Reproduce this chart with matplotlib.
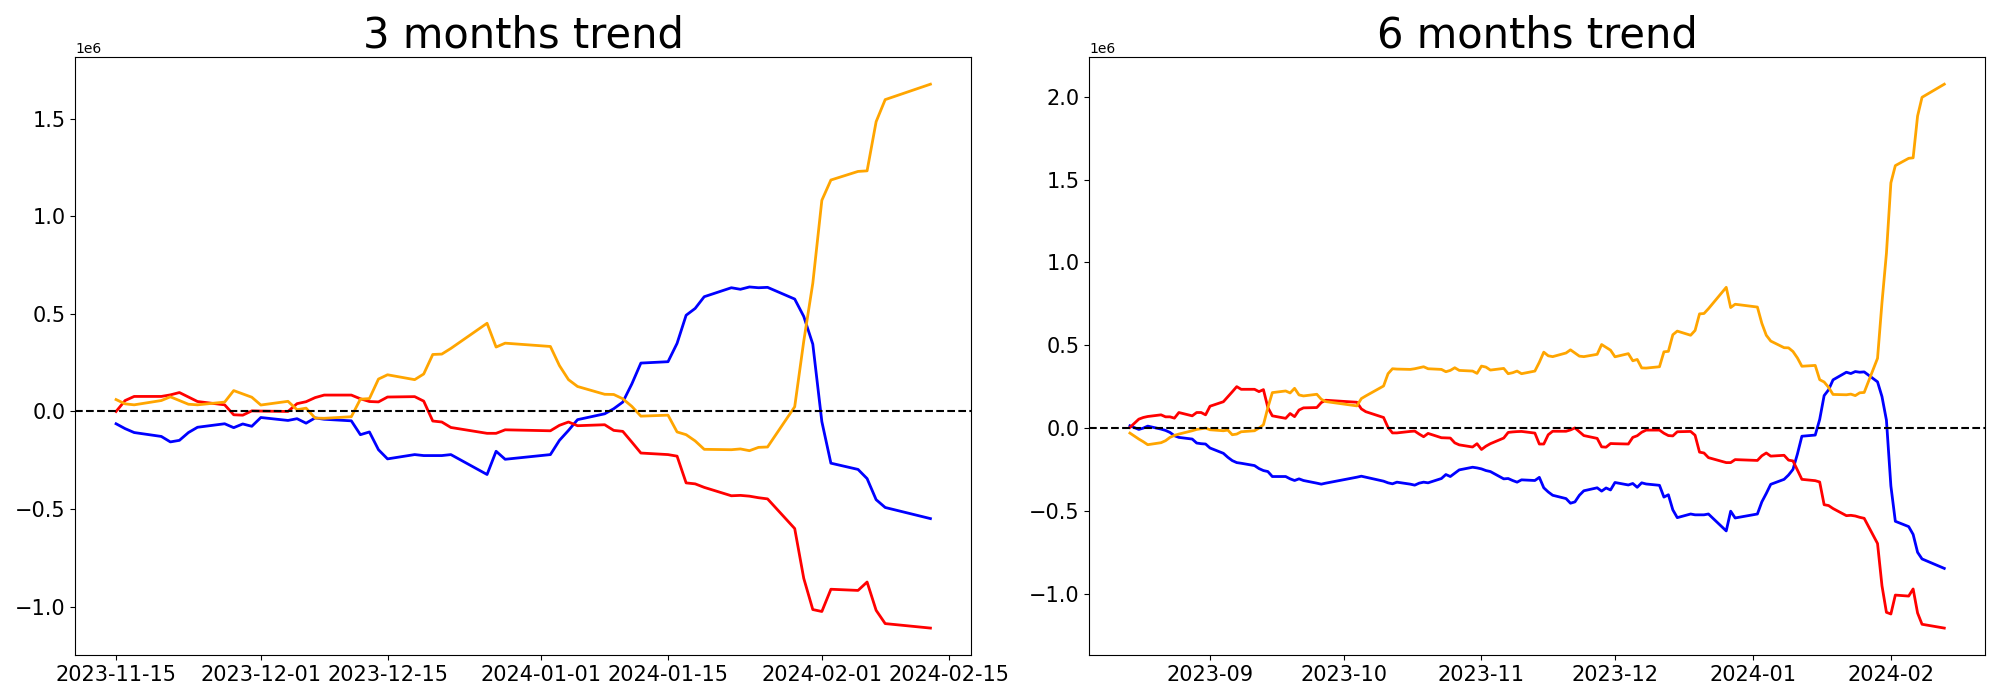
import numpy as np
import matplotlib
matplotlib.use('Agg')
import matplotlib.pyplot as plt

# cumulative net flow per investor group, values in millions

# 3 months window (trading days)
dates_3m = ['2023-11-15', '2023-11-16', '2023-11-17', '2023-11-20', '2023-11-21', '2023-11-22',
            '2023-11-23', '2023-11-24', '2023-11-27', '2023-11-28', '2023-11-29', '2023-11-30',
            '2023-12-01', '2023-12-04', '2023-12-05', '2023-12-06', '2023-12-07', '2023-12-08',
            '2023-12-11', '2023-12-12', '2023-12-13', '2023-12-14', '2023-12-15', '2023-12-18',
            '2023-12-19', '2023-12-20', '2023-12-21', '2023-12-22', '2023-12-26', '2023-12-27',
            '2023-12-28', '2024-01-02', '2024-01-03', '2024-01-04', '2024-01-05', '2024-01-08',
            '2024-01-09', '2024-01-10', '2024-01-11', '2024-01-12', '2024-01-15', '2024-01-16',
            '2024-01-17', '2024-01-18', '2024-01-19', '2024-01-22', '2024-01-23', '2024-01-24',
            '2024-01-25', '2024-01-26', '2024-01-29', '2024-01-30', '2024-01-31', '2024-02-01',
            '2024-02-02', '2024-02-05', '2024-02-06', '2024-02-07', '2024-02-08', '2024-02-13']

blue_3m = [-0.063, -0.088, -0.108, -0.128, -0.156, -0.148, -0.108, -0.081, -0.063, -0.083, -0.064, -0.076,
           -0.031, -0.046, -0.037, -0.060, -0.033, -0.040, -0.048, -0.119, -0.105, -0.196, -0.243, -0.221,
           -0.226, -0.226, -0.226, -0.221, -0.323, -0.204, -0.245, -0.221, -0.148, -0.097, -0.042, -0.012,
           0.014, 0.048, 0.141, 0.248, 0.255, 0.349, 0.493, 0.528, 0.588, 0.634, 0.626, 0.638,
           0.634, 0.636, 0.576, 0.487, 0.345, -0.052, -0.265, -0.297, -0.344, -0.452, -0.492, -0.549]

red_3m = [0.000, 0.056, 0.077, 0.077, 0.085, 0.097, 0.074, 0.051, 0.034, -0.017, -0.019, 0.003,
          0.002, 0.000, 0.040, 0.050, 0.071, 0.084, 0.084, 0.065, 0.051, 0.049, 0.074, 0.076,
          0.053, -0.049, -0.054, -0.082, -0.112, -0.112, -0.094, -0.099, -0.071, -0.054, -0.073, -0.068,
          -0.097, -0.102, -0.157, -0.213, -0.221, -0.229, -0.366, -0.371, -0.389, -0.432, -0.430, -0.434,
          -0.442, -0.448, -0.600, -0.855, -1.015, -1.025, -0.911, -0.917, -0.874, -1.019, -1.087, -1.110]

orange_3m = [0.061, 0.039, 0.034, 0.056, 0.075, 0.056, 0.037, 0.034, 0.048, 0.107, 0.090, 0.073,
             0.033, 0.052, 0.009, 0.017, -0.034, -0.035, -0.027, 0.063, 0.066, 0.166, 0.188, 0.163,
             0.192, 0.292, 0.294, 0.323, 0.452, 0.330, 0.350, 0.333, 0.235, 0.163, 0.128, 0.088,
             0.087, 0.065, 0.026, -0.024, -0.019, -0.105, -0.119, -0.151, -0.194, -0.196, -0.192, -0.201,
             -0.184, -0.182, 0.024, 0.360, 0.657, 1.082, 1.186, 1.230, 1.233, 1.485, 1.598, 1.677]

# 6 months window: first half (Aug - mid Nov)
dates_6m_a = ['2023-08-14', '2023-08-16', '2023-08-17', '2023-08-18', '2023-08-21', '2023-08-22',
              '2023-08-23', '2023-08-24', '2023-08-25', '2023-08-28', '2023-08-29', '2023-08-30',
              '2023-08-31', '2023-09-01', '2023-09-04', '2023-09-05', '2023-09-06', '2023-09-07',
              '2023-09-08', '2023-09-11', '2023-09-12', '2023-09-13', '2023-09-14', '2023-09-15',
              '2023-09-18', '2023-09-19', '2023-09-20', '2023-09-21', '2023-09-22', '2023-09-25',
              '2023-09-26', '2023-09-27', '2023-10-04', '2023-10-05', '2023-10-06', '2023-10-10',
              '2023-10-11', '2023-10-12', '2023-10-13', '2023-10-16', '2023-10-17', '2023-10-18',
              '2023-10-19', '2023-10-20', '2023-10-23', '2023-10-24', '2023-10-25', '2023-10-26',
              '2023-10-27', '2023-10-30', '2023-10-31', '2023-11-01', '2023-11-02', '2023-11-03',
              '2023-11-06', '2023-11-07', '2023-11-08', '2023-11-09', '2023-11-10', '2023-11-13',
              '2023-11-14']

blue_6m_a = [0.015, -0.007, 0.001, 0.013, -0.005, -0.013, -0.025, -0.045, -0.055, -0.065, -0.089, -0.093,
             -0.095, -0.119, -0.151, -0.175, -0.195, -0.207, -0.211, -0.225, -0.243, -0.255, -0.261, -0.291,
             -0.291, -0.305, -0.315, -0.305, -0.315, -0.331, -0.337, -0.331, -0.295, -0.289, -0.295, -0.319,
             -0.329, -0.335, -0.325, -0.337, -0.343, -0.331, -0.325, -0.329, -0.303, -0.279, -0.291, -0.271,
             -0.251, -0.235, -0.239, -0.245, -0.255, -0.261, -0.305, -0.303, -0.315, -0.325, -0.311, -0.315,
             -0.296]

red_6m_a = [0.005, 0.055, 0.065, 0.071, 0.081, 0.069, 0.069, 0.061, 0.095, 0.075, 0.095, 0.095,
            0.081, 0.133, 0.160, 0.190, 0.220, 0.251, 0.235, 0.235, 0.221, 0.233, 0.125, 0.075,
            0.060, 0.089, 0.070, 0.110, 0.123, 0.125, 0.155, 0.169, 0.157, 0.117, 0.100, 0.065,
            0.005, -0.028, -0.028, -0.019, -0.017, -0.035, -0.051, -0.031, -0.057, -0.058, -0.059, -0.088,
            -0.100, -0.113, -0.093, -0.128, -0.108, -0.093, -0.059, -0.025, -0.022, -0.020, -0.019, -0.029,
            -0.095]

orange_6m_a = [-0.029, -0.065, -0.081, -0.099, -0.087, -0.075, -0.055, -0.043, -0.035, -0.015, -0.007, -0.003,
               0.001, -0.009, -0.015, -0.011, -0.039, -0.035, -0.021, -0.015, 0.001, 0.021, 0.125, 0.215,
               0.225, 0.213, 0.241, 0.201, 0.195, 0.205, 0.175, 0.161, 0.135, 0.179, 0.195, 0.255,
               0.329, 0.359, 0.357, 0.355, 0.359, 0.365, 0.371, 0.359, 0.355, 0.341, 0.349, 0.365,
               0.349, 0.345, 0.331, 0.375, 0.369, 0.351, 0.361, 0.329, 0.335, 0.345, 0.329, 0.345,
               0.398]

# 6 months window: second half (same days as the 3 months window)
blue_6m_b = [-0.359, -0.384, -0.404, -0.424, -0.452, -0.444, -0.404, -0.377, -0.359, -0.379, -0.360, -0.372,
             -0.327, -0.342, -0.333, -0.356, -0.329, -0.336, -0.344, -0.415, -0.401, -0.492, -0.539, -0.517,
             -0.522, -0.522, -0.522, -0.517, -0.619, -0.500, -0.541, -0.517, -0.444, -0.393, -0.338, -0.308,
             -0.282, -0.248, -0.155, -0.048, -0.041, 0.053, 0.197, 0.232, 0.292, 0.338, 0.330, 0.342,
             0.338, 0.340, 0.280, 0.191, 0.049, -0.348, -0.561, -0.593, -0.640, -0.748, -0.788, -0.845]

red_6m_b = [-0.095, -0.039, -0.018, -0.018, -0.010, 0.002, -0.021, -0.044, -0.061, -0.112, -0.114, -0.092,
            -0.093, -0.095, -0.055, -0.045, -0.024, -0.011, -0.011, -0.030, -0.044, -0.046, -0.021, -0.019,
            -0.042, -0.144, -0.149, -0.177, -0.207, -0.207, -0.189, -0.194, -0.166, -0.149, -0.168, -0.163,
            -0.192, -0.197, -0.252, -0.308, -0.316, -0.324, -0.461, -0.466, -0.484, -0.527, -0.525, -0.529,
            -0.537, -0.543, -0.695, -0.950, -1.110, -1.120, -1.006, -1.012, -0.969, -1.114, -1.182, -1.205]

orange_6m_b = [0.459, 0.437, 0.432, 0.454, 0.473, 0.454, 0.435, 0.432, 0.446, 0.505, 0.488, 0.471,
               0.431, 0.450, 0.407, 0.415, 0.364, 0.363, 0.371, 0.461, 0.464, 0.564, 0.586, 0.561,
               0.590, 0.690, 0.692, 0.721, 0.850, 0.728, 0.748, 0.731, 0.633, 0.561, 0.526, 0.486,
               0.485, 0.463, 0.424, 0.374, 0.379, 0.293, 0.279, 0.247, 0.204, 0.202, 0.206, 0.197,
               0.214, 0.216, 0.422, 0.758, 1.055, 1.480, 1.584, 1.628, 1.631, 1.883, 1.996, 2.075]

dates_6m = dates_6m_a + dates_3m
blue_6m = blue_6m_a + blue_6m_b
red_6m = red_6m_a + red_6m_b
orange_6m = orange_6m_a + orange_6m_b

panels = [
    ('3 months trend', dates_3m, blue_3m, red_3m, orange_3m),
    ('6 months trend', dates_6m, blue_6m, red_6m, orange_6m),
]

fig, axes = plt.subplots(1, 2, figsize=(20, 7))
for ax, (title, d, b, r, o) in zip(axes, panels):
    x = np.array(d, dtype='datetime64[D]')
    ax.plot(x, np.array(b) * 1e6, color='blue', linewidth=2)
    ax.plot(x, np.array(r) * 1e6, color='red', linewidth=2)
    ax.plot(x, np.array(o) * 1e6, color='orange', linewidth=2)
    ax.axhline(0, color='black', linestyle='--')
    ax.set_title(title, fontsize=30)
    ax.tick_params(labelsize=15)

plt.tight_layout()
plt.savefig('out.png', dpi=100)
